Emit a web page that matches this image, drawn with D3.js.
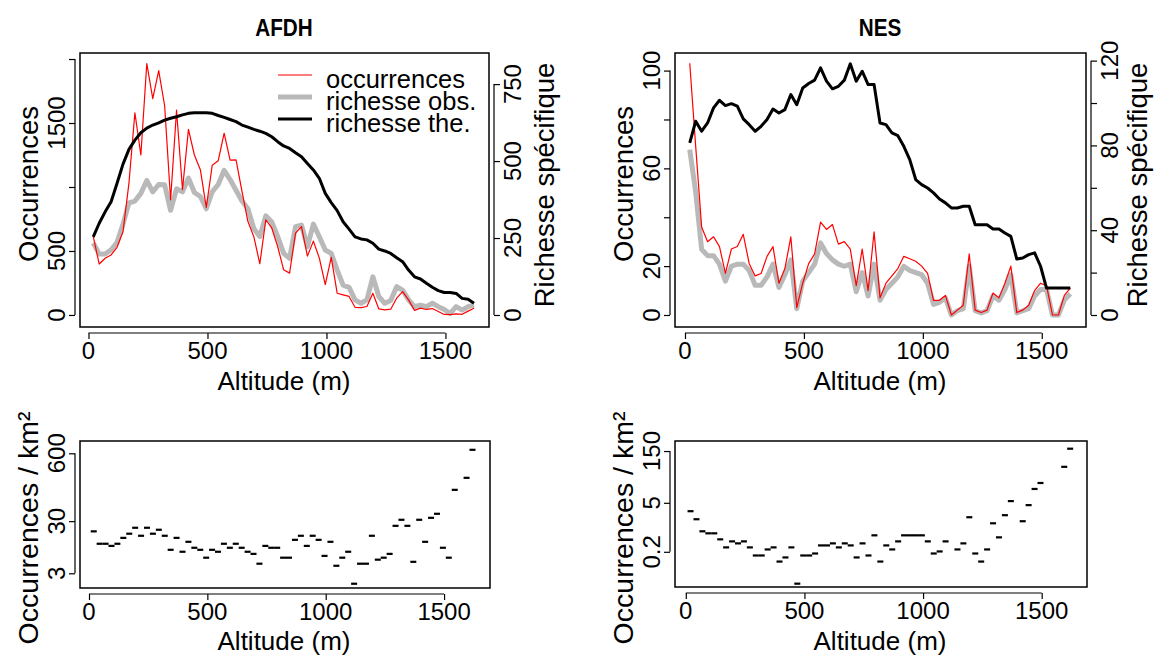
<!DOCTYPE html>
<html>
<head>
<meta charset="utf-8">
<script src="https://cdn.jsdelivr.net/npm/d3@7"></script>
<style>
  body { margin: 0; background: #fff; }
  svg { display: block; }
  text { font-family: "Liberation Sans", Arial, Helvetica, sans-serif; fill: #000; }
</style>
</head>
<body>
<svg id="fig" width="1154" height="657"></svg>
<script>
// Altitude bins (m), shared by every panel
const altitudes = [20, 45, 70, 95, 120, 145, 170, 195, 220, 245, 270, 295, 320, 345, 370, 395,
  420, 445, 470, 495, 520, 545, 570, 595, 620, 645, 670, 695, 720, 745, 770, 795, 820, 845,
  870, 895, 920, 945, 970, 995, 1020, 1045, 1070, 1095, 1120, 1145, 1170, 1195, 1220, 1245,
  1270, 1295, 1320, 1345, 1370, 1395, 1420, 1445, 1470, 1495, 1520, 1545, 1570, 1595, 1620];

// AFDH
const afdhOccurrences = [612, 398, 443, 469, 529, 650, 1030, 1580, 1250, 1965, 1690, 1910, 1635,
  900, 1600, 980, 1450, 1250, 1135, 840, 1170, 1205, 1420, 1210, 1212, 965, 730, 610, 400, 744,
  680, 535, 353, 327, 640, 690, 460, 577, 444, 238, 450, 170, 157, 145, 60, 58, 66, 170, 47, 40,
  45, 131, 183, 118, 36, 53, 43, 50, 27, 4, 3, 8, 5, 30, 52];
const afdhRichObs = [234, 198, 198, 212, 236, 295, 364, 370, 395, 437, 400, 424, 423, 340, 410,
  400, 445, 398, 385, 345, 400, 424, 470, 440, 405, 370, 345, 280, 255, 322, 302, 255, 200, 184,
  287, 292, 222, 295, 254, 211, 200, 146, 97, 90, 49, 38, 49, 124, 60, 38, 47, 92, 81, 49, 27,
  32, 27, 38, 27, 18, 5, 27, 16, 27, 32];
const afdhRichThe = [254, 298, 335, 368, 428, 490, 538, 568, 592, 607, 617, 624, 633, 639, 644,
  650, 655, 657, 657, 657, 655, 648, 642, 635, 628, 617, 610, 603, 597, 590, 579, 563, 549, 541,
  527, 514, 492, 471, 444, 395, 365, 339, 303, 279, 254, 247, 244, 233, 214, 208, 200, 186, 173,
  146, 124, 117, 103, 90, 79, 73, 73, 70, 54, 51, 38];
const afdhDensity = [19.2, 11.1, 11.1, 10.1, 11.1, 14.4, 17.3, 22.5, 15.8, 22.5, 17.3, 20.6, 15.8,
  8.5, 14.4, 7.8, 12.1, 9.3, 8.5, 6.0, 8.5, 7.8, 11.1, 9.3, 11.1, 9.3, 7.8, 7.1, 4.6, 10.1, 9.3,
  9.3, 6.0, 6.0, 13.2, 15.8, 10.1, 15.8, 13.2, 6.5, 12.1, 4.2, 6.0, 7.8, 1.9, 4.6, 4.6, 15.8, 5.5,
  6.0, 7.1, 24.5, 32.0, 24.5, 5.0, 32.0, 12.1, 34.9, 41.7, 9.3, 6.0, 120, null, 204, 703];

// NES
const nesOccurrences = [103, 69, 36, 30, 32, 28, 17, 27, 28, 33, 21, 16, 17, 24, 28, 13, 19, 32,
  3, 13, 21, 25, 38, 35, 37, 29, 30, 27, 12, 27, 10, 34, 7, 13, 16, 19, 24, 23, 22, 20, 17, 6, 6,
  8, 0, 2, 4, 25, 2, 1, 2, 9, 7, 13, 20, 1, 2, 4, 10, 13, 12, 0, 0, 8, 11];
const nesRichObs = [78, 58, 31, 28, 28, 24, 16, 23, 24, 24, 21, 14, 14, 18, 24, 13, 19, 26, 3, 16,
  20, 24, 34, 29, 26, 24, 23, 24, 11, 20, 9, 24, 7, 12, 15, 18, 23, 21, 20, 19, 15, 5, 6, 8, 0, 2,
  3, 23, 2, 1, 2, 9, 7, 12, 19, 1, 2, 3, 9, 12, 12, 0, 0, 7, 10];
const nesRichThe = [81.2, 91.4, 86.7, 90.6, 97.7, 101.3, 98.8, 99.7, 98.5, 92.5, 89.8, 86.7, 89,
  92.2, 97.2, 95.3, 96.9, 104, 99.2, 107.1, 109.2, 110.8, 116.6, 110.3, 106.7, 107.9, 110.8, 118.5,
  110.3, 115, 108.7, 108.7, 90.6, 89.8, 85.9, 84.6, 79.6, 73.3, 63.9, 61.5, 59.9, 57.6, 54.7, 52.9,
  50.5, 50.5, 51.3, 51.3, 42.6, 42.6, 42.6, 40.6, 40.6, 38.7, 37.1, 26.4, 26.9, 28.5, 29.3, 23,
  12.7, 12.7, 12.7, 12.7, 12.7];
const nesDensity = [2.90, 1.71, 0.774, 0.678, 0.678, 0.456, 0.269, 0.399, 0.350, 0.399, 0.269,
  0.158, 0.158, 0.235, 0.269, 0.106, 0.139, 0.269, 0.0248, 0.158, 0.158, 0.180, 0.306, 0.306,
  0.350, 0.269, 0.350, 0.306, 0.139, 0.350, 0.158, 0.594, 0.106, 0.306, 0.235, 0.399, 0.594,
  0.594, 0.594, 0.594, 0.399, 0.180, 0.206, 0.399, null, 0.235, 0.350, 1.95, 0.180, 0.106, 0.235,
  1.31, 0.520, 2.23, 5.63, null, 1.50, 4.32, 12.5, 18.5, null, null, null, 53.5, 176];

// Axis ticks and labels
const altTicks = [0, 500, 1000, 1500];
const altLabels = ["0", "500", "1000", "1500"];
const afdhOccTicks = [0, 500, 1000, 1500, 2000];
const afdhOccLabels = ["0", "500", "", "1500", ""];
const afdhRichTicks = [0, 250, 500, 750];
const afdhRichLabels = ["0", "250", "500", "750"];
const nesOccTicks = [0, 20, 40, 60, 80, 100];
const nesOccLabels = ["0", "20", "", "60", "", "100"];
const nesRichTicks = [0, 20, 40, 60, 80, 100, 120];
const nesRichLabels = ["0", "", "40", "", "80", "", "120"];
const afdhDensTicks = [3, 30, 600];
const afdhDensLabels = ["3", "30", "600"];
const nesDensTicks = [0.2, 5, 150];
const nesDensLabels = ["0.2", "5", "150"];

const legendLabels = ["occurrences", "richesse obs.", "richesse the."];
const colOcc = "#ff0000", colObs = "#b9b9b9", colThe = "#000000";

const svg = d3.select("#fig");
const TICK_FS = 24, HLAB_FS = 26, VLAB_FS = 27.5, LEG_FS = 25.5;

// ---------- helpers ----------
function frame(b) {
  svg.append("rect").attr("x", b.x0).attr("y", b.y0)
    .attr("width", b.x1 - b.x0).attr("height", b.y1 - b.y0)
    .attr("fill", "none").attr("stroke", "#000").attr("stroke-width", 1.5);
}

function bottomAxis(scale, ticks, labels, yLine, yText) {
  const g = svg.append("g").attr("transform", `translate(0,${yLine})`)
    .call(d3.axisBottom(scale).tickValues(ticks).tickSizeInner(6).tickSizeOuter(0).tickFormat(() => ""));
  g.select(".domain").attr("d", `M${scale(ticks[0])},0H${scale(ticks[ticks.length - 1])}`)
    .attr("stroke", "#000").attr("stroke-width", 1.2);
  g.selectAll(".tick line").attr("stroke", "#000").attr("stroke-width", 1.2);
  svg.append("g").selectAll("text").data(ticks).join("text")
    .attr("x", d => scale(d)).attr("y", yText)
    .attr("text-anchor", "middle").attr("font-size", TICK_FS)
    .text((d, i) => labels[i]);
}

function sideAxis(scale, ticks, labels, xLine, xText, right) {
  const gen = right ? d3.axisRight(scale) : d3.axisLeft(scale);
  const g = svg.append("g").attr("transform", `translate(${xLine},0)`)
    .call(gen.tickValues(ticks).tickSizeInner(6).tickSizeOuter(0).tickFormat(() => ""));
  g.select(".domain").attr("d", `M0,${scale(ticks[0])}V${scale(ticks[ticks.length - 1])}`)
    .attr("stroke", "#000").attr("stroke-width", 1.2);
  g.selectAll(".tick line").attr("stroke", "#000").attr("stroke-width", 1.2);
  svg.append("g").selectAll("text").data(ticks).join("text")
    .attr("transform", d => `translate(${xText},${scale(d)}) rotate(-90)`)
    .attr("text-anchor", "middle").attr("font-size", TICK_FS)
    .text((d, i) => labels[i]);
}

function vTitle(txt, x, y, fs) {
  svg.append("text").attr("transform", `translate(${x},${y}) rotate(-90)`)
    .attr("text-anchor", "middle").attr("font-size", fs || VLAB_FS).text(txt);
}
function hTitle(txt, x, y) {
  svg.append("text").attr("x", x).attr("y", y)
    .attr("text-anchor", "middle").attr("font-size", HLAB_FS).text(txt);
}
function mainTitle(txt, x, y) {
  svg.append("text").attr("transform", `translate(${x},${y}) scale(0.9,1)`)
    .attr("text-anchor", "middle").attr("font-size", 23).attr("font-weight", "bold").text(txt);
}

function drawSeries(xs, ys, values, color, width) {
  const line = d3.line().defined(d => d != null).x((d, i) => xs(altitudes[i])).y(d => ys(d));
  svg.append("path").datum(values).attr("d", line)
    .attr("fill", "none").attr("stroke", color).attr("stroke-width", width)
    .attr("stroke-linejoin", "round");
}

function drawDashes(xs, ys, values) {
  const pts = values.map((v, i) => ({ a: altitudes[i], v })).filter(d => d.v != null);
  svg.append("g").selectAll("rect").data(pts).join("rect")
    .attr("x", d => xs(d.a) - 3).attr("y", d => ys(d.v) - 1)
    .attr("width", 6).attr("height", 2.2).attr("fill", "#000");
}

// ---------- AFDH, profile ----------
{
  const b = { x0: 80, x1: 489, y0: 53, y1: 327 };
  const x = d3.scaleLinear().domain([-35.7, 1683]).range([b.x0, b.x1]);
  const yOcc = d3.scaleLinear().domain([-94, 2047]).range([b.y1, b.y0]);
  const yRich = d3.scaleLinear().domain([-39, 851]).range([b.y1, b.y0]);

  drawSeries(x, yRich, afdhRichObs, colObs, 5);
  drawSeries(x, yOcc, afdhOccurrences, colOcc, 1.2);
  drawSeries(x, yRich, afdhRichThe, colThe, 3);
  frame(b);

  bottomAxis(x, altTicks, altLabels, 333, 359);
  sideAxis(yOcc, afdhOccTicks, afdhOccLabels, 75, 65, false);
  sideAxis(yRich, afdhRichTicks, afdhRichLabels, 494, 521, true);
  hTitle("Altitude (m)", 284, 390);
  vTitle("Occurrences", 38, 184);
  vTitle("Richesse spécifique", 554, 185);
  mainTitle("AFDH", 284, 36);

  // legend
  const lg = svg.append("g");
  const rows = [[colOcc, 1.2], [colObs, 5], [colThe, 3]];
  rows.forEach((r, i) => {
    const yy = 75 + i * 22;
    lg.append("line").attr("x1", 278).attr("x2", 312).attr("y1", yy).attr("y2", yy)
      .attr("stroke", r[0]).attr("stroke-width", r[1]);
    lg.append("text").attr("x", 326).attr("y", yy + 13).attr("font-size", LEG_FS)
      .text(legendLabels[i]);
  });
}

// ---------- NES, profile ----------
{
  const b = { x0: 675, x1: 1086, y0: 53, y1: 327 };
  const x = d3.scaleLinear().domain([-42, 1686]).range([b.x0, b.x1]);
  const yOcc = d3.scaleLinear().domain([-4.91, 107.2]).range([b.y1, b.y0]);
  const yRich = d3.scaleLinear().domain([-5.66, 123.6]).range([b.y1, b.y0]);

  drawSeries(x, yRich, nesRichObs, colObs, 5);
  drawSeries(x, yOcc, nesOccurrences, colOcc, 1.2);
  drawSeries(x, yRich, nesRichThe, colThe, 3);
  frame(b);

  bottomAxis(x, altTicks, altLabels, 333, 359);
  sideAxis(yOcc, nesOccTicks, nesOccLabels, 670, 660, false);
  sideAxis(yRich, nesRichTicks, nesRichLabels, 1091, 1118, true);
  hTitle("Altitude (m)", 880, 390);
  vTitle("Occurrences", 633, 184);
  vTitle("Richesse spécifique", 1147, 185);
  mainTitle("NES", 880, 36);
}

// ---------- AFDH, density ----------
{
  const b = { x0: 80, x1: 490, y0: 441, y1: 588 };
  const x = d3.scaleLinear().domain([-38, 1694]).range([b.x0, b.x1]);
  const y = d3.scaleLog().domain([1.567, 1033]).range([b.y1, b.y0]);
  drawDashes(x, y, afdhDensity);
  frame(b);
  bottomAxis(x, altTicks, altLabels, 594, 620);
  sideAxis(y, afdhDensTicks, afdhDensLabels, 75, 65, false);
  hTitle("Altitude (m)", 284, 650);
  vTitle("Occurrences / km²", 38, 528, 28.5);
}

// ---------- NES, density ----------
{
  const b = { x0: 675, x1: 1087, y0: 441, y1: 587 };
  const x = d3.scaleLinear().domain([-45.5, 1691]).range([b.x0, b.x1]);
  const y = d3.scaleLog().domain([0.0198, 290]).range([b.y1, b.y0]);
  drawDashes(x, y, nesDensity);
  frame(b);
  bottomAxis(x, altTicks, altLabels, 593, 619);
  sideAxis(y, nesDensTicks, nesDensLabels, 670, 660, false);
  hTitle("Altitude (m)", 880, 650);
  vTitle("Occurrences / km²", 633, 528, 28.5);
}
</script>
</body>
</html>
